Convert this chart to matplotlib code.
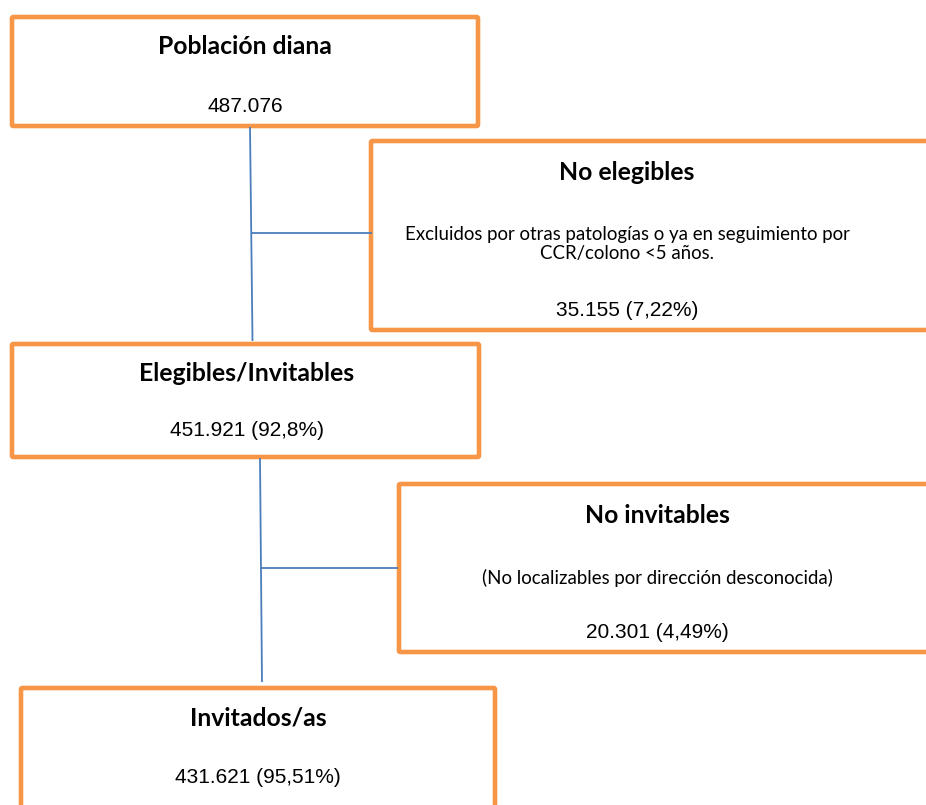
import matplotlib
matplotlib.use('Agg')
import matplotlib.pyplot as plt
from matplotlib.patches import FancyBboxPatch

# textos del diagrama de flujo
titulos = ['Población diana', 'No elegibles', 'Elegibles/Invitables', 'No invitables', 'Invitados/as']
valores = ['487.076', '35.155 (7,22%)', '451.921 (92,8%)', '20.301 (4,49%)', '431.621 (95,51%)']
descripciones = ['',
                 'Excluidos por otras patologías o ya en seguimiento por\nCCR/colono <5 años.',
                 '',
                 '(No localizables por dirección desconocida)',
                 '']

# cajas en pixeles: x0, y0, x1, y1
cajas = [(12, 17, 478, 126),
         (371, 141, 940, 330),
         (12, 344, 479, 457),
         (399, 484, 940, 652),
         (21, 688, 495, 830)]
# posiciones del texto: centro x, y titulo, y descripcion, y valor
pos_texto = [(245, 47, None, 106),
             (627, 172, 244, 310),
             (247, 373, None, 430),
             (657, 515, 578, 632),
             (258, 718, None, 777)]
# conectores (x0, y0, x1, y1)
lineas = [(250, 127, 252.5, 341), (252, 233, 372, 233),
          (260, 458, 262, 682), (261, 568, 398, 568)]

naranja = '#F79646'
azul = '#4A7EBB'

fig = plt.figure(figsize=(9.26, 8.05), dpi=100)
ax = fig.add_axes([0, 0, 1, 1])
ax.set_xlim(0, 926)
ax.set_ylim(805, 0)
ax.axis('off')

for (x0, y0, x1, y1) in lineas:
    ax.plot([x0, x1], [y0, y1], color=azul, lw=1.3, solid_capstyle='butt')

for i, (x0, y0, x1, y1) in enumerate(cajas):
    ax.add_patch(FancyBboxPatch((x0, y0), x1 - x0, y1 - y0,
                                boxstyle='round,pad=0,rounding_size=1.5',
                                facecolor='white', edgecolor=naranja, lw=3.3))
    cx, yt, yd, yv = pos_texto[i]
    ax.text(cx, yt, titulos[i], ha='center', va='center', fontsize=17.8,
            fontweight='bold', family=['Lato', 'DejaVu Sans'], color='black')
    if descripciones[i]:
        ax.text(cx, yd, descripciones[i], ha='center', va='center', fontsize=13.4,
                family=['Lato', 'DejaVu Sans'], linespacing=1.15, color='black')
    ax.text(cx, yv, valores[i], ha='center', va='center', fontsize=15,
            family=['Liberation Sans', 'DejaVu Sans'], color='black')

fig.savefig('out.png', dpi=100)
